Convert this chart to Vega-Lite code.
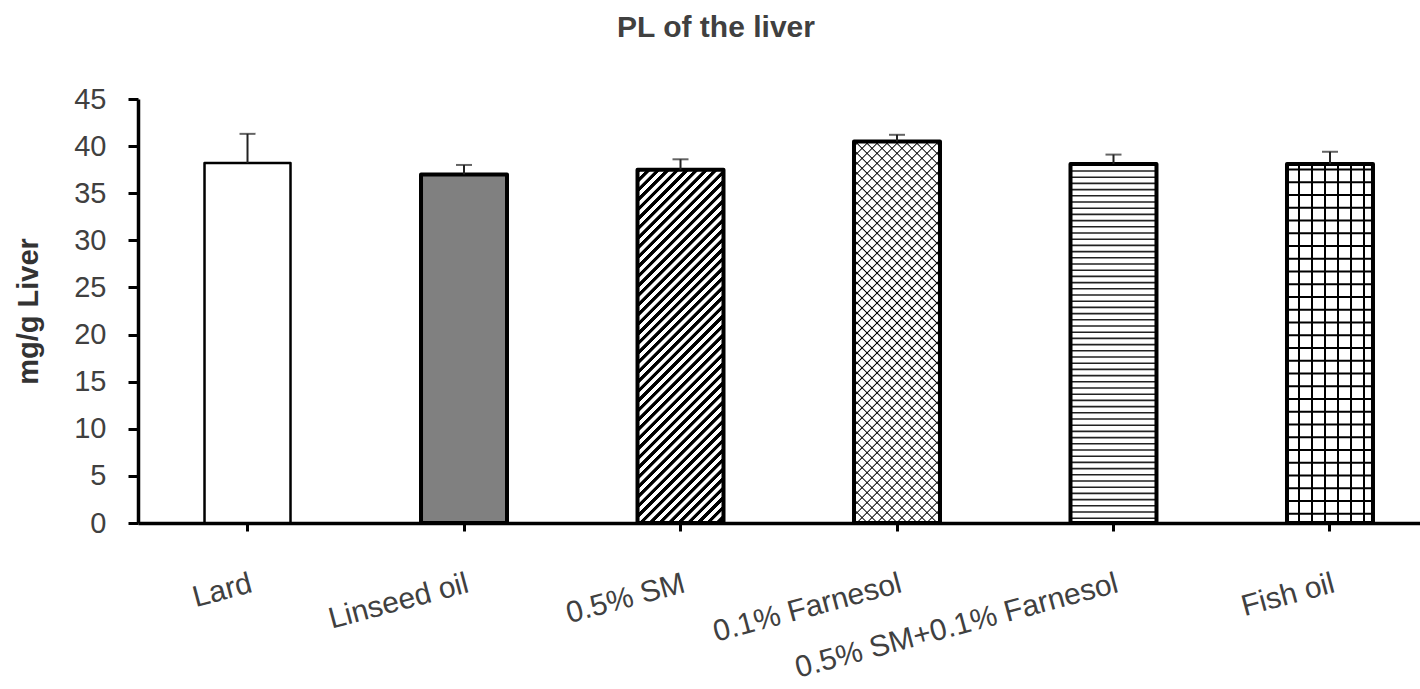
{
  "$schema": "https://vega.github.io/schema/vega-lite/v6.json",
  "width": 1282,
  "height": 424,
  "autosize": {"type": "none"},
  "padding": {"left": 138, "top": 99, "right": 0, "bottom": 166},
  "background": "white",
  "config": {"view": {"stroke": null}, "font": "Liberation Sans"},
  "title": {"text": "PL of the liver", "fontSize": 30, "fontWeight": "bold", "color": "#404040", "anchor": "middle", "frame": "group", "dx": -63, "offset": 18, "baseline": "alphabetic"},
  "data": {"values": [
    {"diet": "Lard", "value": 38.2, "err": 41.3},
    {"diet": "Linseed oil", "value": 37.0, "err": 38.0},
    {"diet": "0.5% SM", "value": 37.5, "err": 38.6},
    {"diet": "0.1% Farnesol", "value": 40.5, "err": 41.2},
    {"diet": "0.5% SM+0.1% Farnesol", "value": 38.1, "err": 39.1},
    {"diet": "Fish oil", "value": 38.1, "err": 39.4}
  ]},
  "encoding": {
    "x": {
      "field": "diet", "type": "nominal", "sort": null,
      "scale": {"paddingInner": 0.6028, "paddingOuter": 0.2622, "align": 0.5859},
      "axis": {"title": null, "labelAngle": -15, "labelAlign": "right", "labelBaseline": "top", "labelFontSize": 30, "labelColor": "#404040", "labelPadding": 37, "labelLimit": 0, "labelOverlap": false, "tickSize": 8, "tickWidth": 3, "tickColor": "black", "domainColor": "black", "domainWidth": 3.5}
    },
    "y": {
      "field": "value", "type": "quantitative",
      "scale": {"domain": [0, 45], "nice": false},
      "axis": {"title": "mg/g Liver", "titleFontSize": 29, "titleFontWeight": "bold", "titleColor": "#333333", "titlePadding": 30, "values": [0, 5, 10, 15, 20, 25, 30, 35, 40, 45], "labelFontSize": 29, "labelColor": "#404040", "labelPadding": 22, "tickSize": 10, "tickWidth": 3, "tickColor": "black", "domainColor": "black", "domainWidth": 3.5, "grid": false}
    }
  },
  "layer": [
    {
      "mark": {"type": "bar"},
      "encoding": {"fill": {"condition": {"test": "datum.diet === 'Linseed oil'", "value": "#808080"}, "value": "white"}}
    },
    {
      "transform": [{"filter": "datum.diet === '0.5% SM'"}],
      "mark": {"type": "bar", "fill": {"gradient": "linear", "x1": 0, "y1": 0, "x2": 0.28574, "y2": 1.17387, "stops": [
        {"offset":0,"color":"#000"},{"offset":0.0091,"color":"#000"},{"offset":0.0105,"color":"#fff"},{"offset":0.0204,"color":"#fff"},
        {"offset":0.0218,"color":"#000"},{"offset":0.0309,"color":"#000"},{"offset":0.0323,"color":"#fff"},{"offset":0.0422,"color":"#fff"},
        {"offset":0.0436,"color":"#000"},{"offset":0.0527,"color":"#000"},{"offset":0.0541,"color":"#fff"},{"offset":0.064,"color":"#fff"},
        {"offset":0.0654,"color":"#000"},{"offset":0.0745,"color":"#000"},{"offset":0.0759,"color":"#fff"},{"offset":0.0858,"color":"#fff"},
        {"offset":0.0872,"color":"#000"},{"offset":0.0963,"color":"#000"},{"offset":0.0977,"color":"#fff"},{"offset":0.1076,"color":"#fff"},
        {"offset":0.109,"color":"#000"},{"offset":0.1181,"color":"#000"},{"offset":0.1195,"color":"#fff"},{"offset":0.1294,"color":"#fff"},
        {"offset":0.1308,"color":"#000"},{"offset":0.1399,"color":"#000"},{"offset":0.1413,"color":"#fff"},{"offset":0.1512,"color":"#fff"},
        {"offset":0.1526,"color":"#000"},{"offset":0.1617,"color":"#000"},{"offset":0.1631,"color":"#fff"},{"offset":0.173,"color":"#fff"},
        {"offset":0.1744,"color":"#000"},{"offset":0.1835,"color":"#000"},{"offset":0.1849,"color":"#fff"},{"offset":0.1948,"color":"#fff"},
        {"offset":0.1962,"color":"#000"},{"offset":0.2053,"color":"#000"},{"offset":0.2067,"color":"#fff"},{"offset":0.2166,"color":"#fff"},
        {"offset":0.218,"color":"#000"},{"offset":0.2271,"color":"#000"},{"offset":0.2285,"color":"#fff"},{"offset":0.2384,"color":"#fff"},
        {"offset":0.2398,"color":"#000"},{"offset":0.2489,"color":"#000"},{"offset":0.2503,"color":"#fff"},{"offset":0.2602,"color":"#fff"},
        {"offset":0.2616,"color":"#000"},{"offset":0.2707,"color":"#000"},{"offset":0.2721,"color":"#fff"},{"offset":0.282,"color":"#fff"},
        {"offset":0.2834,"color":"#000"},{"offset":0.2925,"color":"#000"},{"offset":0.2939,"color":"#fff"},{"offset":0.3038,"color":"#fff"},
        {"offset":0.3052,"color":"#000"},{"offset":0.3143,"color":"#000"},{"offset":0.3157,"color":"#fff"},{"offset":0.3256,"color":"#fff"},
        {"offset":0.327,"color":"#000"},{"offset":0.3361,"color":"#000"},{"offset":0.3375,"color":"#fff"},{"offset":0.3474,"color":"#fff"},
        {"offset":0.3488,"color":"#000"},{"offset":0.3579,"color":"#000"},{"offset":0.3593,"color":"#fff"},{"offset":0.3692,"color":"#fff"},
        {"offset":0.3706,"color":"#000"},{"offset":0.3797,"color":"#000"},{"offset":0.3811,"color":"#fff"},{"offset":0.391,"color":"#fff"},
        {"offset":0.3924,"color":"#000"},{"offset":0.4015,"color":"#000"},{"offset":0.4029,"color":"#fff"},{"offset":0.4128,"color":"#fff"},
        {"offset":0.4142,"color":"#000"},{"offset":0.4233,"color":"#000"},{"offset":0.4247,"color":"#fff"},{"offset":0.4346,"color":"#fff"},
        {"offset":0.436,"color":"#000"},{"offset":0.4451,"color":"#000"},{"offset":0.4465,"color":"#fff"},{"offset":0.4564,"color":"#fff"},
        {"offset":0.4578,"color":"#000"},{"offset":0.4669,"color":"#000"},{"offset":0.4683,"color":"#fff"},{"offset":0.4782,"color":"#fff"},
        {"offset":0.4796,"color":"#000"},{"offset":0.4887,"color":"#000"},{"offset":0.4901,"color":"#fff"},{"offset":0.5,"color":"#fff"},
        {"offset":0.5014,"color":"#000"},{"offset":0.5105,"color":"#000"},{"offset":0.5119,"color":"#fff"},{"offset":0.5218,"color":"#fff"},
        {"offset":0.5232,"color":"#000"},{"offset":0.5323,"color":"#000"},{"offset":0.5337,"color":"#fff"},{"offset":0.5436,"color":"#fff"},
        {"offset":0.545,"color":"#000"},{"offset":0.5541,"color":"#000"},{"offset":0.5555,"color":"#fff"},{"offset":0.5654,"color":"#fff"},
        {"offset":0.5668,"color":"#000"},{"offset":0.5759,"color":"#000"},{"offset":0.5773,"color":"#fff"},{"offset":0.5872,"color":"#fff"},
        {"offset":0.5886,"color":"#000"},{"offset":0.5977,"color":"#000"},{"offset":0.5991,"color":"#fff"},{"offset":0.609,"color":"#fff"},
        {"offset":0.6104,"color":"#000"},{"offset":0.6195,"color":"#000"},{"offset":0.6209,"color":"#fff"},{"offset":0.6308,"color":"#fff"},
        {"offset":0.6322,"color":"#000"},{"offset":0.6413,"color":"#000"},{"offset":0.6427,"color":"#fff"},{"offset":0.6526,"color":"#fff"},
        {"offset":0.654,"color":"#000"},{"offset":0.6631,"color":"#000"},{"offset":0.6645,"color":"#fff"},{"offset":0.6744,"color":"#fff"},
        {"offset":0.6758,"color":"#000"},{"offset":0.6849,"color":"#000"},{"offset":0.6863,"color":"#fff"},{"offset":0.6962,"color":"#fff"},
        {"offset":0.6976,"color":"#000"},{"offset":0.7067,"color":"#000"},{"offset":0.7081,"color":"#fff"},{"offset":0.718,"color":"#fff"},
        {"offset":0.7194,"color":"#000"},{"offset":0.7285,"color":"#000"},{"offset":0.7299,"color":"#fff"},{"offset":0.7398,"color":"#fff"},
        {"offset":0.7412,"color":"#000"},{"offset":0.7503,"color":"#000"},{"offset":0.7517,"color":"#fff"},{"offset":0.7616,"color":"#fff"},
        {"offset":0.763,"color":"#000"},{"offset":0.7721,"color":"#000"},{"offset":0.7735,"color":"#fff"},{"offset":0.7834,"color":"#fff"},
        {"offset":0.7848,"color":"#000"},{"offset":0.7939,"color":"#000"},{"offset":0.7953,"color":"#fff"},{"offset":0.8052,"color":"#fff"},
        {"offset":0.8066,"color":"#000"},{"offset":0.8157,"color":"#000"},{"offset":0.8171,"color":"#fff"},{"offset":0.827,"color":"#fff"},
        {"offset":0.8284,"color":"#000"},{"offset":0.8375,"color":"#000"},{"offset":0.8389,"color":"#fff"},{"offset":0.8488,"color":"#fff"},
        {"offset":0.8502,"color":"#000"},{"offset":0.8593,"color":"#000"},{"offset":0.8607,"color":"#fff"},{"offset":0.8706,"color":"#fff"},
        {"offset":0.872,"color":"#000"},{"offset":0.8811,"color":"#000"},{"offset":0.8825,"color":"#fff"},{"offset":0.8924,"color":"#fff"},
        {"offset":0.8938,"color":"#000"},{"offset":0.9029,"color":"#000"},{"offset":0.9043,"color":"#fff"},{"offset":0.9142,"color":"#fff"},
        {"offset":0.9156,"color":"#000"},{"offset":0.9247,"color":"#000"},{"offset":0.9261,"color":"#fff"},{"offset":0.936,"color":"#fff"},
        {"offset":0.9374,"color":"#000"},{"offset":0.9465,"color":"#000"},{"offset":0.9479,"color":"#fff"},{"offset":0.9578,"color":"#fff"},
        {"offset":0.9592,"color":"#000"},{"offset":0.9683,"color":"#000"},{"offset":0.9697,"color":"#fff"},{"offset":0.9796,"color":"#fff"},
        {"offset":0.981,"color":"#000"},{"offset":0.9901,"color":"#000"},{"offset":0.9915,"color":"#fff"},{"offset":1,"color":"#fff"}
      ]}}
    },
    {
      "transform": [{"filter": "datum.diet === '0.1% Farnesol'"}],
      "mark": {"type": "bar", "fill": {"gradient": "linear", "x1": 0, "y1": 0, "x2": 0.26281, "y2": 1.16613, "stops": [
        {"offset":0.0079,"color":"#fff"},{"offset":0.0107,"color":"#000"},{"offset":0.0135,"color":"#fff"},
        {"offset":0.0292,"color":"#fff"},{"offset":0.032,"color":"#000"},{"offset":0.0348,"color":"#fff"},
        {"offset":0.0506,"color":"#fff"},{"offset":0.0534,"color":"#000"},{"offset":0.0562,"color":"#fff"},
        {"offset":0.0719,"color":"#fff"},{"offset":0.0747,"color":"#000"},{"offset":0.0775,"color":"#fff"},
        {"offset":0.0933,"color":"#fff"},{"offset":0.0961,"color":"#000"},{"offset":0.0989,"color":"#fff"},
        {"offset":0.1146,"color":"#fff"},{"offset":0.1174,"color":"#000"},{"offset":0.1202,"color":"#fff"},
        {"offset":0.136,"color":"#fff"},{"offset":0.1388,"color":"#000"},{"offset":0.1416,"color":"#fff"},
        {"offset":0.1573,"color":"#fff"},{"offset":0.1601,"color":"#000"},{"offset":0.1629,"color":"#fff"},
        {"offset":0.1787,"color":"#fff"},{"offset":0.1815,"color":"#000"},{"offset":0.1843,"color":"#fff"},
        {"offset":0.2,"color":"#fff"},{"offset":0.2028,"color":"#000"},{"offset":0.2056,"color":"#fff"},
        {"offset":0.2213,"color":"#fff"},{"offset":0.2241,"color":"#000"},{"offset":0.2269,"color":"#fff"},
        {"offset":0.2427,"color":"#fff"},{"offset":0.2455,"color":"#000"},{"offset":0.2483,"color":"#fff"},
        {"offset":0.264,"color":"#fff"},{"offset":0.2668,"color":"#000"},{"offset":0.2696,"color":"#fff"},
        {"offset":0.2854,"color":"#fff"},{"offset":0.2882,"color":"#000"},{"offset":0.291,"color":"#fff"},
        {"offset":0.3067,"color":"#fff"},{"offset":0.3095,"color":"#000"},{"offset":0.3123,"color":"#fff"},
        {"offset":0.3281,"color":"#fff"},{"offset":0.3309,"color":"#000"},{"offset":0.3337,"color":"#fff"},
        {"offset":0.3494,"color":"#fff"},{"offset":0.3522,"color":"#000"},{"offset":0.355,"color":"#fff"},
        {"offset":0.3708,"color":"#fff"},{"offset":0.3736,"color":"#000"},{"offset":0.3764,"color":"#fff"},
        {"offset":0.3921,"color":"#fff"},{"offset":0.3949,"color":"#000"},{"offset":0.3977,"color":"#fff"},
        {"offset":0.4134,"color":"#fff"},{"offset":0.4162,"color":"#000"},{"offset":0.419,"color":"#fff"},
        {"offset":0.4348,"color":"#fff"},{"offset":0.4376,"color":"#000"},{"offset":0.4404,"color":"#fff"},
        {"offset":0.4561,"color":"#fff"},{"offset":0.4589,"color":"#000"},{"offset":0.4617,"color":"#fff"},
        {"offset":0.4775,"color":"#fff"},{"offset":0.4803,"color":"#000"},{"offset":0.4831,"color":"#fff"},
        {"offset":0.4988,"color":"#fff"},{"offset":0.5016,"color":"#000"},{"offset":0.5044,"color":"#fff"},
        {"offset":0.5202,"color":"#fff"},{"offset":0.523,"color":"#000"},{"offset":0.5258,"color":"#fff"},
        {"offset":0.5415,"color":"#fff"},{"offset":0.5443,"color":"#000"},{"offset":0.5471,"color":"#fff"},
        {"offset":0.5629,"color":"#fff"},{"offset":0.5657,"color":"#000"},{"offset":0.5685,"color":"#fff"},
        {"offset":0.5842,"color":"#fff"},{"offset":0.587,"color":"#000"},{"offset":0.5898,"color":"#fff"},
        {"offset":0.6055,"color":"#fff"},{"offset":0.6083,"color":"#000"},{"offset":0.6111,"color":"#fff"},
        {"offset":0.6269,"color":"#fff"},{"offset":0.6297,"color":"#000"},{"offset":0.6325,"color":"#fff"},
        {"offset":0.6482,"color":"#fff"},{"offset":0.651,"color":"#000"},{"offset":0.6538,"color":"#fff"},
        {"offset":0.6696,"color":"#fff"},{"offset":0.6724,"color":"#000"},{"offset":0.6752,"color":"#fff"},
        {"offset":0.6909,"color":"#fff"},{"offset":0.6937,"color":"#000"},{"offset":0.6965,"color":"#fff"},
        {"offset":0.7123,"color":"#fff"},{"offset":0.7151,"color":"#000"},{"offset":0.7179,"color":"#fff"},
        {"offset":0.7336,"color":"#fff"},{"offset":0.7364,"color":"#000"},{"offset":0.7392,"color":"#fff"},
        {"offset":0.755,"color":"#fff"},{"offset":0.7578,"color":"#000"},{"offset":0.7606,"color":"#fff"},
        {"offset":0.7763,"color":"#fff"},{"offset":0.7791,"color":"#000"},{"offset":0.7819,"color":"#fff"},
        {"offset":0.7976,"color":"#fff"},{"offset":0.8004,"color":"#000"},{"offset":0.8032,"color":"#fff"},
        {"offset":0.819,"color":"#fff"},{"offset":0.8218,"color":"#000"},{"offset":0.8246,"color":"#fff"},
        {"offset":0.8403,"color":"#fff"},{"offset":0.8431,"color":"#000"},{"offset":0.8459,"color":"#fff"},
        {"offset":0.8617,"color":"#fff"},{"offset":0.8645,"color":"#000"},{"offset":0.8673,"color":"#fff"},
        {"offset":0.883,"color":"#fff"},{"offset":0.8858,"color":"#000"},{"offset":0.8886,"color":"#fff"},
        {"offset":0.9044,"color":"#fff"},{"offset":0.9072,"color":"#000"},{"offset":0.91,"color":"#fff"},
        {"offset":0.9257,"color":"#fff"},{"offset":0.9285,"color":"#000"},{"offset":0.9313,"color":"#fff"},
        {"offset":0.9471,"color":"#fff"},{"offset":0.9499,"color":"#000"},{"offset":0.9527,"color":"#fff"},
        {"offset":0.9684,"color":"#fff"},{"offset":0.9712,"color":"#000"},{"offset":0.974,"color":"#fff"},
        {"offset":0.9898,"color":"#fff"},{"offset":0.9926,"color":"#000"},{"offset":0.9954,"color":"#fff"}
      ]}}
    },
    {
      "transform": [{"filter": "datum.diet === '0.1% Farnesol'"}],
      "mark": {"type": "bar", "fill": {"gradient": "linear", "x1": 1, "y1": 0, "x2": 0.73719, "y2": 1.16613, "stops": [
        {"offset":0.0079,"color":"#0000"},{"offset":0.0107,"color":"#000"},{"offset":0.0135,"color":"#0000"},
        {"offset":0.0292,"color":"#0000"},{"offset":0.032,"color":"#000"},{"offset":0.0348,"color":"#0000"},
        {"offset":0.0506,"color":"#0000"},{"offset":0.0534,"color":"#000"},{"offset":0.0562,"color":"#0000"},
        {"offset":0.0719,"color":"#0000"},{"offset":0.0747,"color":"#000"},{"offset":0.0775,"color":"#0000"},
        {"offset":0.0933,"color":"#0000"},{"offset":0.0961,"color":"#000"},{"offset":0.0989,"color":"#0000"},
        {"offset":0.1146,"color":"#0000"},{"offset":0.1174,"color":"#000"},{"offset":0.1202,"color":"#0000"},
        {"offset":0.136,"color":"#0000"},{"offset":0.1388,"color":"#000"},{"offset":0.1416,"color":"#0000"},
        {"offset":0.1573,"color":"#0000"},{"offset":0.1601,"color":"#000"},{"offset":0.1629,"color":"#0000"},
        {"offset":0.1787,"color":"#0000"},{"offset":0.1815,"color":"#000"},{"offset":0.1843,"color":"#0000"},
        {"offset":0.2,"color":"#0000"},{"offset":0.2028,"color":"#000"},{"offset":0.2056,"color":"#0000"},
        {"offset":0.2213,"color":"#0000"},{"offset":0.2241,"color":"#000"},{"offset":0.2269,"color":"#0000"},
        {"offset":0.2427,"color":"#0000"},{"offset":0.2455,"color":"#000"},{"offset":0.2483,"color":"#0000"},
        {"offset":0.264,"color":"#0000"},{"offset":0.2668,"color":"#000"},{"offset":0.2696,"color":"#0000"},
        {"offset":0.2854,"color":"#0000"},{"offset":0.2882,"color":"#000"},{"offset":0.291,"color":"#0000"},
        {"offset":0.3067,"color":"#0000"},{"offset":0.3095,"color":"#000"},{"offset":0.3123,"color":"#0000"},
        {"offset":0.3281,"color":"#0000"},{"offset":0.3309,"color":"#000"},{"offset":0.3337,"color":"#0000"},
        {"offset":0.3494,"color":"#0000"},{"offset":0.3522,"color":"#000"},{"offset":0.355,"color":"#0000"},
        {"offset":0.3708,"color":"#0000"},{"offset":0.3736,"color":"#000"},{"offset":0.3764,"color":"#0000"},
        {"offset":0.3921,"color":"#0000"},{"offset":0.3949,"color":"#000"},{"offset":0.3977,"color":"#0000"},
        {"offset":0.4134,"color":"#0000"},{"offset":0.4162,"color":"#000"},{"offset":0.419,"color":"#0000"},
        {"offset":0.4348,"color":"#0000"},{"offset":0.4376,"color":"#000"},{"offset":0.4404,"color":"#0000"},
        {"offset":0.4561,"color":"#0000"},{"offset":0.4589,"color":"#000"},{"offset":0.4617,"color":"#0000"},
        {"offset":0.4775,"color":"#0000"},{"offset":0.4803,"color":"#000"},{"offset":0.4831,"color":"#0000"},
        {"offset":0.4988,"color":"#0000"},{"offset":0.5016,"color":"#000"},{"offset":0.5044,"color":"#0000"},
        {"offset":0.5202,"color":"#0000"},{"offset":0.523,"color":"#000"},{"offset":0.5258,"color":"#0000"},
        {"offset":0.5415,"color":"#0000"},{"offset":0.5443,"color":"#000"},{"offset":0.5471,"color":"#0000"},
        {"offset":0.5629,"color":"#0000"},{"offset":0.5657,"color":"#000"},{"offset":0.5685,"color":"#0000"},
        {"offset":0.5842,"color":"#0000"},{"offset":0.587,"color":"#000"},{"offset":0.5898,"color":"#0000"},
        {"offset":0.6055,"color":"#0000"},{"offset":0.6083,"color":"#000"},{"offset":0.6111,"color":"#0000"},
        {"offset":0.6269,"color":"#0000"},{"offset":0.6297,"color":"#000"},{"offset":0.6325,"color":"#0000"},
        {"offset":0.6482,"color":"#0000"},{"offset":0.651,"color":"#000"},{"offset":0.6538,"color":"#0000"},
        {"offset":0.6696,"color":"#0000"},{"offset":0.6724,"color":"#000"},{"offset":0.6752,"color":"#0000"},
        {"offset":0.6909,"color":"#0000"},{"offset":0.6937,"color":"#000"},{"offset":0.6965,"color":"#0000"},
        {"offset":0.7123,"color":"#0000"},{"offset":0.7151,"color":"#000"},{"offset":0.7179,"color":"#0000"},
        {"offset":0.7336,"color":"#0000"},{"offset":0.7364,"color":"#000"},{"offset":0.7392,"color":"#0000"},
        {"offset":0.755,"color":"#0000"},{"offset":0.7578,"color":"#000"},{"offset":0.7606,"color":"#0000"},
        {"offset":0.7763,"color":"#0000"},{"offset":0.7791,"color":"#000"},{"offset":0.7819,"color":"#0000"},
        {"offset":0.7976,"color":"#0000"},{"offset":0.8004,"color":"#000"},{"offset":0.8032,"color":"#0000"},
        {"offset":0.819,"color":"#0000"},{"offset":0.8218,"color":"#000"},{"offset":0.8246,"color":"#0000"},
        {"offset":0.8403,"color":"#0000"},{"offset":0.8431,"color":"#000"},{"offset":0.8459,"color":"#0000"},
        {"offset":0.8617,"color":"#0000"},{"offset":0.8645,"color":"#000"},{"offset":0.8673,"color":"#0000"},
        {"offset":0.883,"color":"#0000"},{"offset":0.8858,"color":"#000"},{"offset":0.8886,"color":"#0000"},
        {"offset":0.9044,"color":"#0000"},{"offset":0.9072,"color":"#000"},{"offset":0.91,"color":"#0000"},
        {"offset":0.9257,"color":"#0000"},{"offset":0.9285,"color":"#000"},{"offset":0.9313,"color":"#0000"},
        {"offset":0.9471,"color":"#0000"},{"offset":0.9499,"color":"#000"},{"offset":0.9527,"color":"#0000"},
        {"offset":0.9684,"color":"#0000"},{"offset":0.9712,"color":"#000"},{"offset":0.974,"color":"#0000"},
        {"offset":0.9898,"color":"#0000"},{"offset":0.9926,"color":"#000"},{"offset":0.9954,"color":"#0000"}
      ]}}
    },
    {
      "transform": [{"filter": "datum.diet === '0.5% SM+0.1% Farnesol'"}],
      "mark": {"type": "rule", "color": "#222222", "strokeWidth": 86, "strokeDash": [1.6, 4.6]},
      "encoding": {"y2": {"datum": 0}}
    },
    {
      "transform": [{"filter": "datum.diet === 'Fish oil'"}],
      "mark": {"type": "rule", "color": "#000000", "strokeWidth": 86, "strokeDash": [2, 10.75], "strokeDashOffset": 8.15},
      "encoding": {"y2": {"datum": 0}}
    },
    {
      "transform": [{"filter": "datum.diet === 'Fish oil'"}],
      "mark": {"type": "bar", "fill": {"gradient": "linear", "x1": 0, "y1": 0, "x2": 1, "y2": 0, "stops": [
        {"offset":0.1302,"color":"#0000"},{"offset":0.1302,"color":"#000"},{"offset":0.1535,"color":"#000"},{"offset":0.1535,"color":"#0000"},
        {"offset":0.2802,"color":"#0000"},{"offset":0.2802,"color":"#000"},{"offset":0.3035,"color":"#000"},{"offset":0.3035,"color":"#0000"},
        {"offset":0.4302,"color":"#0000"},{"offset":0.4302,"color":"#000"},{"offset":0.4535,"color":"#000"},{"offset":0.4535,"color":"#0000"},
        {"offset":0.5802,"color":"#0000"},{"offset":0.5802,"color":"#000"},{"offset":0.6035,"color":"#000"},{"offset":0.6035,"color":"#0000"},
        {"offset":0.7302,"color":"#0000"},{"offset":0.7302,"color":"#000"},{"offset":0.7535,"color":"#000"},{"offset":0.7535,"color":"#0000"},
        {"offset":0.8802,"color":"#0000"},{"offset":0.8802,"color":"#000"},{"offset":0.9035,"color":"#000"},{"offset":0.9035,"color":"#0000"}
      ]}}
    },
    {
      "mark": {"type": "bar", "filled": false, "stroke": "black", "strokeJoin": "round"},
      "encoding": {"strokeWidth": {"condition": {"test": "datum.diet === 'Lard'", "value": 2.5}, "value": 4}}
    },
    {
      "mark": {"type": "rule", "color": "#222222", "strokeWidth": 2},
      "encoding": {"y2": {"field": "err"}}
    },
    {
      "mark": {"type": "tick", "color": "#222222", "thickness": 2, "size": 16},
      "encoding": {"y": {"field": "err", "type": "quantitative", "title": "mg/g Liver"}}
    }
  ]
}
